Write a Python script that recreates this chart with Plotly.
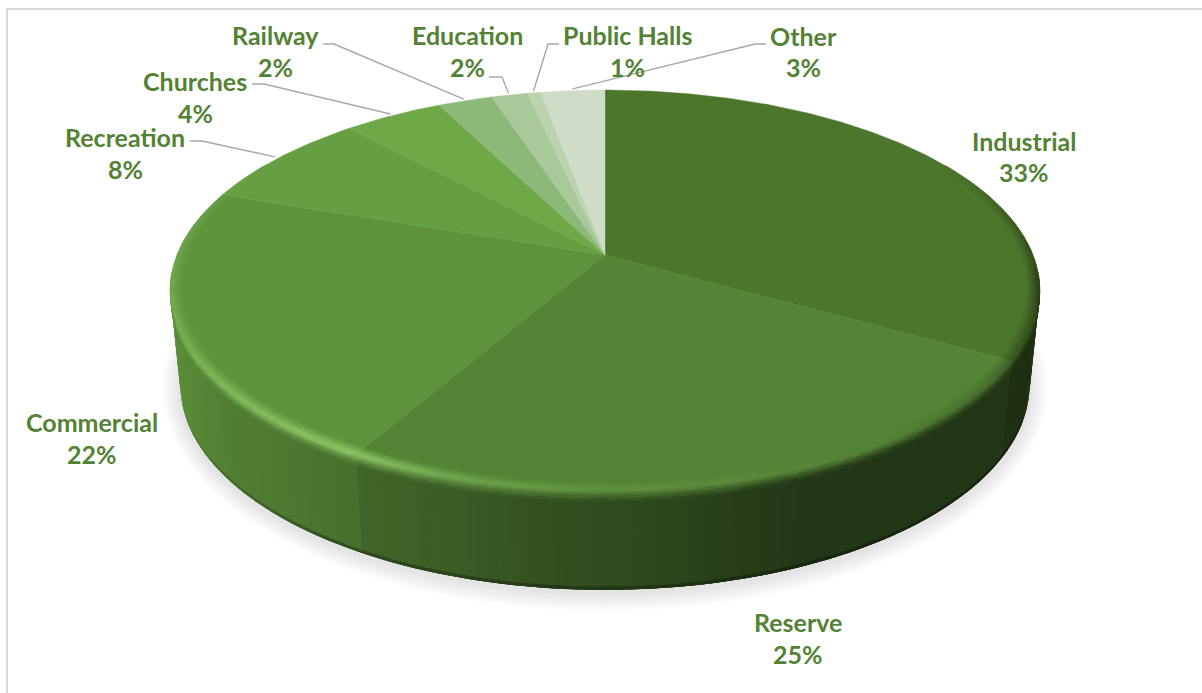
import numpy as np
import plotly.graph_objects as go

# Land use shares, clockwise from twelve o'clock
categories = ["Industrial", "Reserve", "Commercial", "Recreation", "Churches",
              "Railway", "Education", "Public Halls", "Other"]
shares = [33.3, 24.9, 22.1, 7.9, 4.4, 2.4, 1.6, 0.6, 2.8]

FACE_COLORS = ["#4c762c", "#548535", "#5e933b", "#659f41", "#6fa947",
               "#8cb87a", "#a9c99a", "#bcd4ae", "#cfdcc8"]
TEXT_COLOR = "#548235"
LEADER_COLOR = "#a8a8a8"
FRAME_COLOR = "#d9d9d9"
FONT = "Lato"

# Label placement: (x of centre, y of name, y of percentage)
LABEL_PLACES = {
    "Industrial": (1024, 141, 172), "Reserve": (798, 622, 654),
    "Commercial": (92, 422, 454), "Recreation": (125, 137, 169),
    "Churches": (195, 81, 113), "Railway": (275, 35, 67),
    "Education": (467, 35, 67), "Public Halls": (627, 35, 67),
    "Other": (803, 36, 67),
}
# Where each leader line leaves its label: (start x, elbow x, y)
LEADER_STARTS = {
    "Recreation": (190, 202, 141), "Churches": (252, 264, 84),
    "Railway": (323, 334, 44), "Education": (489, 502, 77),
    "Public Halls": (559, 548, 44), "Other": (766, 755, 44),
}

# Perspective disc: projection of the unit circle at depth z (0 top, 1 bottom)
TILT = 0.175
CX = 605.0


def project(t, r=1.0, z=0.0):
    u, v = r * np.sin(t), r * np.cos(t)
    w = 1 + TILT * v
    return CX + (428 - 10 * z) * u / w, (255 + 94 * z) - (193.9 + 4.8 * z) * v / w


def hex_rgb(c):
    return np.array([int(c[i:i + 2], 16) for i in (1, 3, 5)], float)


def to_hex(rgb):
    return "#%02x%02x%02x" % tuple(int(round(max(0, min(255, c)))) for c in rgb)


def blend(a, b, s):
    return a + (b - a) * s


shares_arr = np.array(shares)
edges = 2 * np.pi * np.concatenate([[0], np.cumsum(shares_arr)]) / shares_arr.sum()
face_rgb = [hex_rgb(c) for c in FACE_COLORS]


def add_polys(fig, groups, lw=0.7):
    # One filled trace per colour, polygons separated by gaps
    for color, polys in groups.items():
        xs, ys = [], []
        for px, py in polys:
            xs += list(px) + [px[0], None]
            ys += list(py) + [py[0], None]
        line = dict(color=color, width=lw) if lw else dict(width=0)
        fig.add_trace(go.Scatter(x=xs, y=ys, mode="lines", fill="toself",
                                 fillcolor=color, line=line,
                                 hoverinfo="skip", showlegend=False))


def quad(t0, t1, r0, r1, z0, z1):
    x0, y0 = project(t0, r0, z0)
    x1, y1 = project(t1, r0, z0)
    x2, y2 = project(t1, r1, z1)
    x3, y3 = project(t0, r1, z1)
    return [x0, x1, x2, x3], [y0, y1, y2, y3]


def wedge_steps(lo, hi, step_deg=1.0):
    # Angular steps clipped to [lo, hi] (degrees) inside each slice
    out = []
    for i in range(len(shares)):
        a, b = max(edges[i], np.radians(lo)), min(edges[i + 1], np.radians(hi))
        if b <= a:
            continue
        n = max(1, int(np.ceil(np.degrees(b - a) / step_deg)))
        ts = np.linspace(a, b, n + 1)
        out += [(i, ts[j], ts[j + 1]) for j in range(n)]
    return out


# Wall shading falls off from the lit left side to the dark right side
SHADE_X = [170, 230, 357, 450, 550, 650, 720, 800, 1040]
SHADE_F = [0.97, 0.86, 0.76, 0.70, 0.60, 0.54, 0.48, 0.42, 0.41]


def wall_rgb(i, t):
    x, _ = project(t, 1.0, 0.5)
    return face_rgb[i] * np.interp(x, SHADE_X, SHADE_F)


# Rim colour: a highlight towards the front left, a dark lip on the far right
GLOW_T = [150, 180, 195, 209, 225, 250, 265, 285, 300]
GLOW_H = [0.0, 0.2, 0.45, 0.95, 0.8, 0.5, 0.4, 0.2, 0.0]
GLOW = hex_rgb("#90cc68")


def rim_rgb(i, t):
    deg = np.degrees(t)
    face = face_rgb[i]
    if deg <= 150:
        dark = np.interp(deg, [60, 100, 130, 150], [0.0, 0.85, 0.25, 0.0])
        return blend(face, wall_rgb(i, t), dark)
    return blend(face, GLOW, np.interp(deg, GLOW_T, GLOW_H))


fig = go.Figure()

# Soft drop shadow under the disc
for d in np.linspace(2, 18, 9):
    a = np.linspace(0, 2 * np.pi, 181)
    fig.add_trace(go.Scatter(x=CX + (425 + d) * np.cos(a), y=388 + (205 + d) * np.sin(a),
                             mode="lines", fill="toself", fillcolor="rgba(0,0,0,0.012)",
                             line=dict(width=0), hoverinfo="skip", showlegend=False))

# Outer wall: each strip overlaps the next so no seams show between them
STRIP_OVERLAP = np.radians(1.0)
for i, t0, t1 in wedge_steps(85, 275):
    c = wall_rgb(i, (t0 + t1) / 2)
    add_polys(fig, {to_hex(c): [quad(t0, t1 + STRIP_OVERLAP, 1, 1, 0.05, 1.0)]}, lw=0)
for i, t0, t1 in wedge_steps(85, 275):
    tm = (t0 + t1) / 2
    edge_dim = np.interp(np.degrees(tm), [215, 255], [0.72, 1.0])
    c = wall_rgb(i, tm) * edge_dim
    add_polys(fig, {to_hex(c): [quad(t0, t1 + STRIP_OVERLAP, 1, 1, 0.97, 1.0)]}, lw=0)

# Top face slices
for i in range(len(shares)):
    n = max(3, int(np.degrees(edges[i + 1] - edges[i]) * 2))
    ts = np.linspace(edges[i], edges[i + 1], n)
    ax, ay = project(ts, 1.0, 0.0)
    add_polys(fig, {FACE_COLORS[i]: [([CX] + list(ax), [255.0] + list(ay))]}, lw=0.4)

# Bevel: lower lip from the top rim down onto the wall
OUTER_BANDS = 4
lip = {}
for i, t0, t1 in wedge_steps(95, 265):
    tm = (t0 + t1) / 2
    for b in range(OUTER_BANDS):
        s0, s1 = b / OUTER_BANDS, (b + 1) / OUTER_BANDS
        c = blend(rim_rgb(i, tm), wall_rgb(i, tm), (s0 + s1) / 2)
        lip.setdefault(to_hex(c), []).append(quad(t0, t1, 1, 1, 0.11 * s0, 0.11 * s1))
add_polys(fig, lip)

# Bevel: inner band blending the face into the rim colour
INNER_BANDS = 4
bevel = {}
for i, t0, t1 in wedge_steps(60, 300):
    tm = (t0 + t1) / 2
    for b in range(INNER_BANDS):
        s0, s1 = b / INNER_BANDS, (b + 1) / INNER_BANDS
        c = blend(face_rgb[i], rim_rgb(i, tm), (s0 + s1) / 2)
        bevel.setdefault(to_hex(c), []).append(
            quad(t0, t1, 0.972 + 0.028 * s0, 0.972 + 0.028 * s1, 0, 0))
add_polys(fig, bevel, lw=0.4)

# Leader lines run from each label to the middle of its slice on the rim
for name, (x0, xe, y) in LEADER_STARTS.items():
    i = categories.index(name)
    ex, ey = project((edges[i] + edges[i + 1]) / 2, 1.012, 0.0)
    fig.add_trace(go.Scatter(x=[x0, xe, ex], y=[y, y, ey], mode="lines",
                             line=dict(color=LEADER_COLOR, width=1.4),
                             hoverinfo="skip", showlegend=False))

# Category names and percentages
annotations = []
for name, share in zip(categories, shares):
    x, y_name, y_pct = LABEL_PLACES[name]
    for text, y in ((name, y_name), (f"{share:.0f}%", y_pct)):
        annotations.append(dict(x=x, y=y, xref="x", yref="y", text=f"<b>{text}</b>",
                                showarrow=False, xanchor="center", yanchor="middle",
                                font=dict(family=FONT, size=25, color=TEXT_COLOR)))

fig.update_layout(
    width=1202, height=693, autosize=False,
    margin=dict(l=0, r=0, t=0, b=0),
    paper_bgcolor="white", plot_bgcolor="white", showlegend=False,
    xaxis=dict(range=[0, 1202], visible=False, fixedrange=True),
    yaxis=dict(range=[693, 0], visible=False, fixedrange=True),
    annotations=annotations,
    shapes=[dict(type="rect", xref="x", yref="y", x0=7, y0=9, x1=1230, y1=720,
                 line=dict(color=FRAME_COLOR, width=2), layer="below")],
)

fig.write_html("out.html")
